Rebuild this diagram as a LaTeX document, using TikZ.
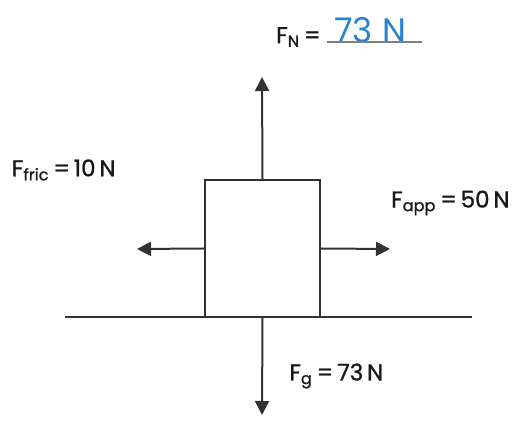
\documentclass[tikz,border=0pt]{standalone}
\usepackage{fontspec}
\setmainfont{Poppins}
\newfontfamily\lblfont{Poppins}[FakeBold=1.2]
\usetikzlibrary{arrows.meta, positioning}
\definecolor{inkblue}{RGB}{40, 130, 205}
\definecolor{linegray}{RGB}{50, 50, 50}
\tikzset{
	block/.style={draw=linegray, line width=1pt, minimum width=57.5pt, minimum height=68.5pt, inner sep=0pt},
	force/.style={draw=linegray, line width=1pt, -{Triangle[length=7pt, width=7pt]}},
	label/.style={inner sep=0pt, font=\lblfont\fontsize{11.5}{13}\selectfont, text=black!90},
	hand/.style={inner sep=0pt, font=\fontsize{17}{19}\selectfont, text=inkblue}
}
\begin{document}
\begin{tikzpicture}[x=0.5pt, y=-0.5pt]
	\useasboundingbox (0,0) rectangle (514,421);
	% ground and block
	\coordinate (gl) at (65,317);
	\coordinate (gr) at (472,317);
	\draw[linegray, line width=1pt] (gl) -- (gr);
	\node[block] (box) at (262.5,248.5) {};
	% force tips
	\coordinate (tipN) at (262,77);
	\coordinate (tipG) at (262,415);
	\coordinate (tipF) at (137,249);
	\coordinate (tipA) at (390,249);
	\draw[force] (box.north) -- (tipN);
	\draw[force] (box.south) -- (tipG);
	\draw[force] (box.west) -- (tipF);
	\draw[force] (box.east) -- (tipA);
	% labels
	\node[label, anchor=east] (fn) at (321,37) {F\textsubscript{N}\,=};
	\node[hand, anchor=west] (fnval) at (334,30) {73 N};
	\coordinate (ul) at (327,42);
	\coordinate (ur) at (422,42);
	\draw[gray, line width=0.7pt] (ul) -- (ur);
	\node[label, anchor=east] (ffric) at (116,170) {F\textsubscript{fric}\,=\,10\,N};
	\node[label, anchor=east] (fapp) at (510,203) {F\textsubscript{app}\,=\,50\,N};
	\node[label, anchor=west] (fg) at (289,376) {F\textsubscript{g}\,=\,73\,N};
\end{tikzpicture}
\end{document}
